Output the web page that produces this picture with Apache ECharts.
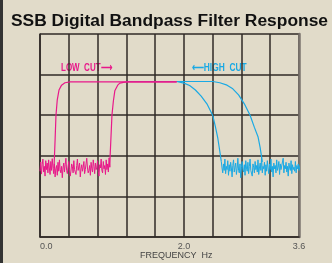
<!DOCTYPE html>
<html>
<head>
<meta charset="utf-8">
<script src="https://cdn.jsdelivr.net/npm/echarts@6/dist/echarts.min.js"></script>
<style>
  html, body { margin: 0; padding: 0; background: #e1dbc9; }
  #chart { width: 332px; height: 263px; }
</style>
</head>
<body>
<div id="chart"></div>
<script>
// x ticks that carry a label
var tickValues = [0, 2.0, 3.6]
var tickLabels = ['0.0', '2.0', '3.6']

// low cut filters (pink), [freq, level]
var lowCut1 = [[0.195, 1.7], [0.2, 1.95], [0.21, 2.4], [0.222, 3.0], [0.24, 3.38], [0.264, 3.62], [0.3, 3.74], [0.347, 3.8], [0.42, 3.82], [1.9, 3.82]]
var lowCut2 = [[0.97, 1.72], [0.975, 2.0], [0.99, 2.6], [1.0, 3.0], [1.02, 3.35], [1.04, 3.6], [1.08, 3.74], [1.11, 3.79], [1.16, 3.81], [1.22, 3.82], [1.9, 3.82]]
// high cut filters (blue)
var highCut1 = [[1.2, 3.83], [1.9, 3.83], [2.0, 3.79], [2.08, 3.73], [2.16, 3.62], [2.24, 3.47], [2.32, 3.28], [2.4, 3.0], [2.44, 2.7], [2.47, 2.45], [2.5, 2.1], [2.52, 1.86]]
var highCut2 = [[1.2, 3.83], [2.4, 3.83], [2.5, 3.8], [2.6, 3.74], [2.68, 3.65], [2.76, 3.5], [2.84, 3.28], [2.92, 3.0], [2.98, 2.7], [3.03, 2.47], [3.06, 2.2], [3.09, 1.85]]

// stop band noise, sampled every 0.01 Hz
var pinkStart = 0.0
var pinkNoise = [
  1.62, 1.85, 1.55, 1.78, 1.92, 1.60, 1.74, 1.50, 1.88, 1.66,
  1.82, 1.58, 1.90, 1.70, 1.54, 1.86, 1.64, 1.93, 1.72, 1.56,
  1.80, 1.48, 1.68, 1.76, 1.52, 1.84, 1.62, 1.90, 1.66, 1.58,
  1.74, 1.46, 1.70, 1.82, 1.60, 1.78, 1.94, 1.64, 1.56, 1.72,
  1.86, 1.68, 1.50, 1.62, 1.80, 1.74, 1.58, 1.88, 1.66, 1.70,
  1.54, 1.76, 1.92, 1.64, 1.60, 1.82, 1.48, 1.68, 1.78, 1.62,
  1.72, 1.86, 1.56, 1.66, 1.80, 1.94, 1.70, 1.58, 1.64, 1.76,
  1.52, 1.84, 1.68, 1.60, 1.90, 1.74, 1.56, 1.82, 1.66, 1.72,
  1.88, 1.62, 1.50, 1.78, 1.70, 1.92, 1.64, 1.58, 1.86, 1.68,
  1.76, 1.54, 1.90, 1.66, 1.80, 1.60, 1.95, 1.72
]
var blueStart = 2.52
var blueNoise = [
  1.86, 1.70, 1.58, 1.80, 1.64, 1.92, 1.56, 1.74, 1.66, 1.88,
  1.52, 1.78, 1.62, 1.84, 1.70, 1.48, 1.76, 1.90, 1.60, 1.72,
  1.82, 1.54, 1.68, 1.94, 1.64, 1.58, 1.80, 1.46, 1.72, 1.86,
  1.66, 1.60, 1.78, 1.52, 1.88, 1.70, 1.62, 1.84, 1.56, 1.74,
  1.92, 1.64, 1.68, 1.50, 1.80, 1.72, 1.58, 1.86, 1.66, 1.76,
  1.60, 1.90, 1.54, 1.70, 1.82, 1.64, 1.96, 1.58, 1.74, 1.68,
  1.84, 1.52, 1.78, 1.62, 1.88, 1.70, 1.56, 1.80, 1.66, 1.92,
  1.60, 1.74, 1.48, 1.82, 1.68, 1.76, 1.58, 1.90, 1.64, 1.72,
  1.86, 1.54, 1.80, 1.66, 1.70, 1.62, 1.94, 1.58, 1.76, 1.68,
  1.84, 1.60, 1.74, 1.50, 1.82, 1.70, 1.64, 1.88, 1.56, 1.78,
  1.66, 1.72, 1.62, 1.86, 1.58, 1.76, 1.68, 1.80, 1.64, 1.74,
  1.70, 1.82, 1.60, 1.76, 1.66, 1.72
]

var PINK = '#e8188a'
var BLUE = '#1aa9e4'
var GRID = '#2f2a26'

function sampled(start, vals) {
  return vals.map(function (v, i) {
    return [+(start + i * 0.01).toFixed(2), v]
  })
}

var chart = echarts.init(document.getElementById('chart'))
var option = {
  backgroundColor: '#e1dbc9',
  animation: false,
  title: {
    text: 'SSB Digital Bandpass Filter Response',
    left: 6,
    top: 8,
    textStyle: { fontFamily: 'Liberation Sans', fontWeight: 'bold', fontSize: 17.4, color: '#111' }
  },
  grid: { left: 40, right: 33, top: 34, bottom: 26, containLabel: false },
  xAxis: {
    type: 'value',
    min: 0,
    max: 3.6,
    interval: 0.4,
    axisLine: { show: true, lineStyle: { color: GRID, width: 1.5 } },
    axisTick: { show: false },
    splitLine: { show: true, lineStyle: { color: GRID, width: 1.5 } },
    axisLabel: {
      margin: 5,
      fontFamily: 'Liberation Sans',
      fontSize: 9,
      color: '#555',
      alignMinLabel: 'left',
      formatter: function (v) {
        for (var i = 0; i < tickValues.length; i++) {
          if (Math.abs(v - tickValues[i]) < 1e-6) return tickLabels[i]
        }
        return ''
      }
    }
  },
  yAxis: [
    {
      type: 'value',
      min: 0,
      max: 5,
      interval: 1,
      axisLine: { show: true, lineStyle: { color: GRID, width: 1.5 } },
      axisTick: { show: false },
      axisLabel: { show: false },
      splitLine: { show: true, lineStyle: { color: GRID, width: 1.5 } }
    },
    {
      type: 'value',
      position: 'right',
      min: 0,
      max: 5,
      interval: 1,
      axisLine: { show: true, lineStyle: { color: '#7b746e', width: 2.5 } },
      axisTick: { show: false },
      axisLabel: { show: false },
      splitLine: { show: false }
    }
  ],
  graphic: [
    { type: 'rect', left: 0, top: 0, shape: { width: 3, height: 263 }, style: { fill: '#333' } },
    {
      type: 'text', x: 61, y: 63, scaleX: 0.8,
      style: { text: 'LOW  CUT\u27f6', fill: PINK, font: 'bold 10px "Liberation Sans"', verticalAlign: 'top' }
    },
    {
      type: 'text', x: 192, y: 63, scaleX: 0.84,
      style: { text: '\u27f5HIGH  CUT', fill: BLUE, font: 'bold 10px "Liberation Sans"', verticalAlign: 'top' }
    },
    {
      type: 'text', left: 140, top: 251,
      style: { text: 'FREQUENCY  Hz', fill: '#444', font: '9px "Liberation Sans"' }
    }
  ],
  series: [
    { type: 'line', data: highCut1, showSymbol: false, lineStyle: { color: BLUE, width: 1.2 } },
    { type: 'line', data: highCut2, showSymbol: false, lineStyle: { color: BLUE, width: 1.2 } },
    { type: 'line', data: sampled(blueStart, blueNoise), showSymbol: false, clip: false, lineStyle: { color: BLUE, width: 1 } },
    { type: 'line', data: lowCut1, showSymbol: false, lineStyle: { color: PINK, width: 1.2 } },
    { type: 'line', data: lowCut2, showSymbol: false, lineStyle: { color: PINK, width: 1.2 } },
    { type: 'line', data: sampled(pinkStart, pinkNoise), showSymbol: false, lineStyle: { color: PINK, width: 1 } }
  ]
}
chart.setOption(option)
</script>
</body>
</html>
